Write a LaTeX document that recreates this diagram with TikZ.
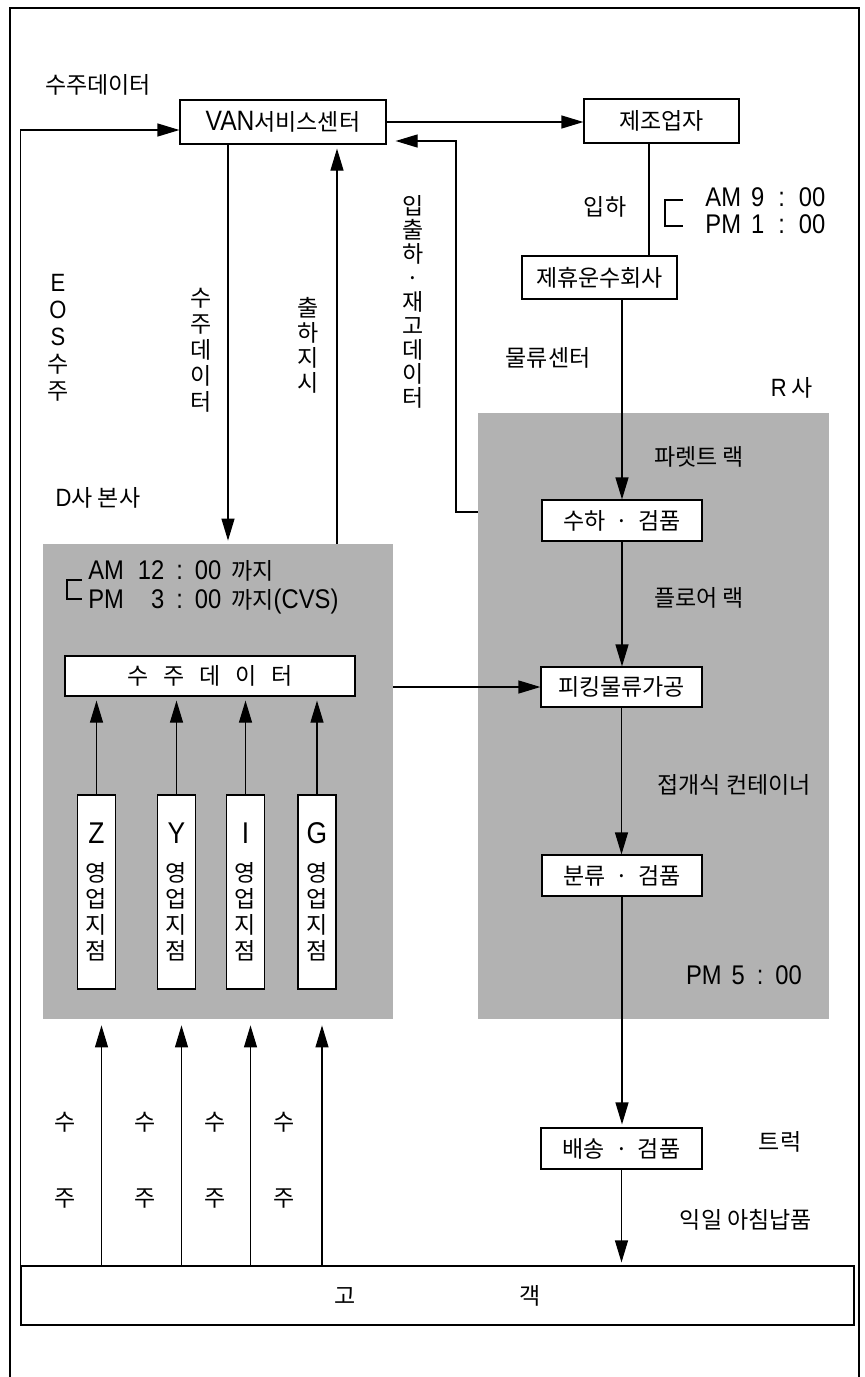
\documentclass[tikz,border=0pt]{standalone}
\usepackage{fontspec}
\setmainfont{Noto Sans CJK KR}
\newfontfamily\latn{Liberation Sans}[FakeStretch=0.88]
\usetikzlibrary{arrows.meta,calc}
\newcommand\LT[2]{{\latn\fontsize{#1}{#1}\selectfont #2}}
\newcommand\MD{\hspace{5pt}·\hspace{5pt}}
\begin{document}
\begin{tikzpicture}[x=0.5pt,y=-0.5pt,
  lbl/.style={inner sep=0pt, font=\fontsize{11.5}{13}\selectfont},
  box/.style={draw, fill=white, line width=0.6pt, inner sep=0pt, font=\fontsize{11.5}{13}\selectfont},
  arr/.style={line width=0.6pt, -{Triangle[length=11pt,width=6.5pt]}},
  ln/.style={line width=0.6pt},
  shade/.style={fill=black!30, draw=none, inner sep=0pt},
  vlbl/.style={lbl, align=center},
  branch/.style={box, minimum width=19pt, minimum height=97pt, align=center, font=\fontsize{11.5}{13}\selectfont}
]
\useasboundingbox (0,0) rectangle (865,1377);
% outer frame
\draw[ln] (10,1377) -- (10,8) -- (859,8) -- (859,1377);

% shaded areas
\node[shade, minimum width=175pt, minimum height=237.5pt] (Dbox) at (218,781.5) {};
\node[shade, minimum width=175.5pt, minimum height=303pt] (Rbox) at (653.5,716) {};

% top
\node[lbl] (t1) at (98,85) {수주데이터};
\node[box, minimum width=103pt, minimum height=22pt] (van) at (283,122) {\LT{14}{VAN}서비스센터};
\node[box, minimum width=77.5pt, minimum height=22pt] (mfr) at (661.5,121) {제조업자};
\node[box, minimum width=77.5pt, minimum height=21.5pt] (trans) at (599.5,277.5) {제휴운수회사};
\node[lbl] (ipha) at (605,207) {입하};
\node[lbl, anchor=west, align=left, font=\latn\fontsize{13.5}{13.5}\selectfont] (tm1) at (705,211)
  {AM\hspace{5pt}9\hspace{7pt}:\hspace{7pt}00\\PM\hspace{5pt}1\hspace{7pt}:\hspace{7pt}00};
\draw[ln] (683,200) -- (665,200) -- (665,226) -- (683,226);
\node[lbl] (mul) at (548,358) {물류센터};
\node[lbl] (rsa) at (792,388) {\LT{12.5}{R}\ 사};
\node[lbl] (dbon) at (98,498) {\LT{12.5}{D}사\ 본사};

% vertical labels
\node[vlbl, font=\fontsize{11.5}{13.5}\selectfont] (eos) at (58,338) {\LT{12.5}{E}\\\LT{12.5}{O}\\\LT{12.5}{S}\\수\\주};
\node[vlbl, font=\fontsize{11.5}{13}\selectfont] (vsj) at (201,350) {수\\주\\데\\이\\터};
\node[vlbl, font=\fontsize{11.5}{12.5}\selectfont] (vch) at (308,345) {출\\하\\지\\시};
\node[vlbl, font=\fontsize{11.5}{12}\selectfont] (vip) at (413,302) {입\\출\\하\\·\\재\\고\\데\\이\\터};

% R company
\node[lbl] (pal) at (699,457) {파렛트 랙};
\node[box, minimum width=80pt, minimum height=20.5pt] (sh) at (622,520.5) {수하\MD 검품};
\node[lbl] (flr) at (699,598) {플로어 랙};
\node[box, minimum width=80.5pt, minimum height=20pt] (pk) at (621.5,687) {피킹물류가공};
\node[lbl] (cont) at (734,785) {접개식 컨테이너};
\node[box, minimum width=80pt, minimum height=20.5pt] (bl) at (622,875.5) {분류\MD 검품};
\node[lbl, font=\latn\fontsize{13.5}{13.5}\selectfont] (pm5) at (744,975) {PM\hspace{5pt}5\hspace{6pt}:\hspace{6pt}00};
\node[box, minimum width=80.5pt, minimum height=20.5pt] (bs) at (621.5,1148.5) {배송\MD 검품};
\node[lbl] (truck) at (780,1142) {트럭};
\node[lbl] (next) at (746,1220) {익일 아침납품};

% D company
\node[lbl, anchor=west, align=left, font=\fontsize{11.5}{14.5}\selectfont] (tm2) at (88,587.5)
  {\LT{13.5}{\makebox[25pt][l]{AM}\makebox[13pt][r]{12}\hspace{6pt}:\hspace{6pt}00}\hspace{5pt}까지\\
   \LT{13.5}{\makebox[25pt][l]{PM}\makebox[13pt][r]{3}\hspace{6pt}:\hspace{6pt}00}\hspace{5pt}까지\LT{13.5}{(CVS)}};
\draw[ln] (82,580) -- (67,580) -- (67,599) -- (82,599);
\node[box, minimum width=145pt, minimum height=20pt] (sj) at (210,676)
  {수\hspace{7.5pt}주\hspace{7.5pt}데\hspace{7.5pt}이\hspace{7.5pt}터};
\node[branch] (bz) at (96.5,892) {\LT{15}{Z}\\[6pt]영\\업\\지\\점};
\node[branch] (by) at (176.5,892) {\LT{15}{Y}\\[6pt]영\\업\\지\\점};
\node[branch] (bi) at (245.5,892) {\LT{15}{I}\\[6pt]영\\업\\지\\점};
\node[branch] (bg) at (317,892) {\LT{15}{G}\\[6pt]영\\업\\지\\점};

% customers
\node[box, minimum width=416.5pt, minimum height=29.5pt] (gk) at (437.5,1295.5) {고\hspace{82pt}객\hspace{13pt}};
\node[vlbl] (s1) at (65,1160) {수\\[25pt]주};
\node[vlbl] (s2) at (145,1160) {수\\[25pt]주};
\node[vlbl] (s3) at (215,1160) {수\\[25pt]주};
\node[vlbl] (s4) at (284,1160) {수\\[25pt]주};

% helper x positions
\coordinate (xa) at (228,0);
\coordinate (xb) at (337,0);
\coordinate (xc) at (649,0);
\coordinate (rc) at (456,512);

% connectors
\draw[arr] (gk.north west) |- ($(van.west)+(0,8)$);
\draw[arr] (van.east) -- (van.east -| mfr.west);
\draw[arr] (rc -| Rbox.west) -- (rc) |- ($(van.east)+(9,19)$);
\draw[arr] (van.south -| xa) -- ($(Dbox.north -| xa)+(0,-3)$);
\draw[arr] (Dbox.north -| xb) -- ($(van.south -| xb)+(0,4)$);
\draw[ln] (mfr.south -| xc) -- (trans.north -| xc);
\draw[arr] (trans.south -| sh.north) -- (sh.north);
\draw[arr] (sh.south) -- (sh.south |- pk.north);
\draw[arr] (pk.south) -- (pk.south |- bl.north);
\draw[arr] (bl.south) -- ($(bl.south |- bs.north)+(0,-3)$);
\draw[arr] (bs.south) -- ($(bs.south |- gk.north)+(0,-3)$);
\draw[arr] (Dbox.east |- pk.west) -- (pk.west);
\foreach \b in {bz,by,bi,bg}{
  \draw[arr] (\b.north) -- ($(\b.north |- sj.south)+(0,4)$);
  \draw[arr] ($(gk.north -| \b)+(5,0)$) -- ($(Dbox.south -| \b)+(5,6)$);
}
\end{tikzpicture}
\end{document}
